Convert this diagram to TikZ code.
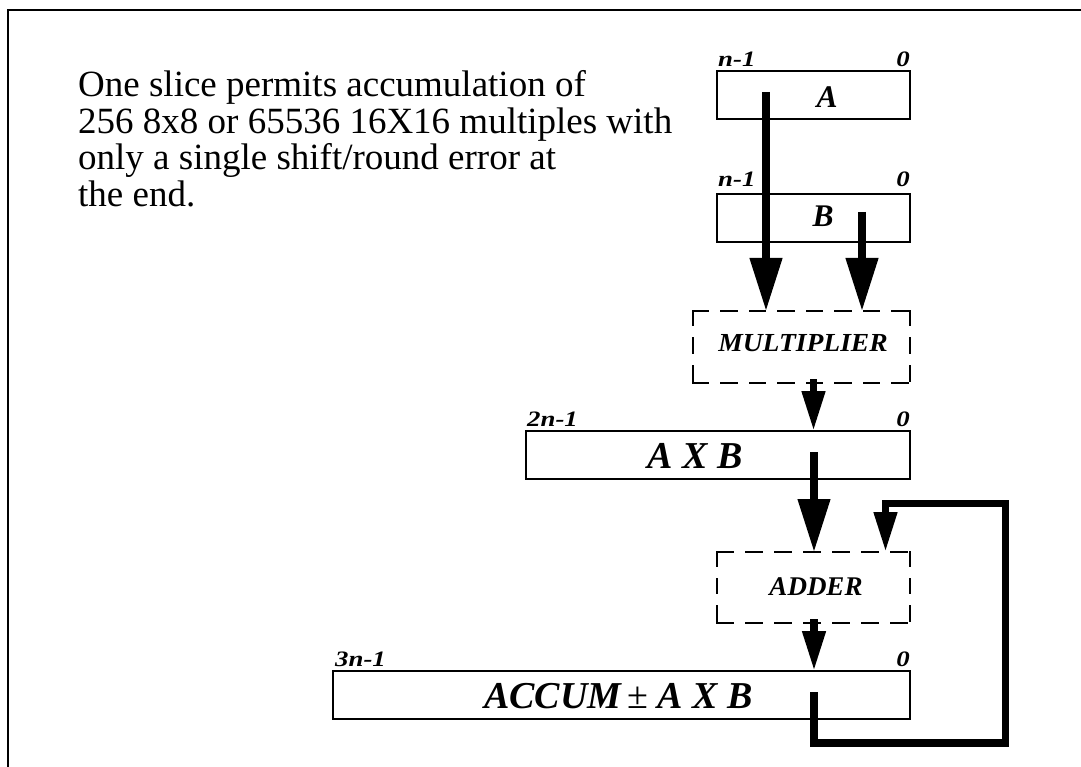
\documentclass[tikz,border=0pt]{standalone}
\usepackage{fontspec}
\setmainfont{Liberation Serif}
\usetikzlibrary{arrows.meta}
\tikzset{
  reg/.style={draw, line width=1.3pt, minimum height=48pt, inner sep=0pt, outer sep=0pt},
  unit/.style={inner sep=0pt, outer sep=0pt},
  dside/.style={line width=2.7pt, line cap=rect, dash pattern=on #1 off 13.7pt},
  bigarrow/.style={line width=7.5pt, -{Triangle[length=53pt,width=31pt]}},
  smallarrow/.style={line width=7.5pt, line join=miter, -{Triangle[length=40pt,width=22pt]}},
  body/.style={anchor=base west, inner sep=0pt, font=\fontsize{37}{37}\selectfont},
  bit/.style={inner sep=0pt, font=\fontsize{22}{22}\selectfont\bfseries\itshape},
  regtext/.style={anchor=base, inner sep=0pt, font=\fontsize{#1}{#1}\selectfont\bfseries\itshape},
}
\newcommand\widen[1]{\scalebox{1.22}[1]{#1}}
\begin{document}
\begin{tikzpicture}[x=1pt,y=-1pt]
\useasboundingbox (0,0) rectangle (1081,767);
\clip (0,0) rectangle (1081,767);
% frame
\draw[line width=2.7pt] (8,800) -- (8,10) -- (1100,10);

% text
\node[body] (t1) at (78,97) {One slice permits accumulation of};
\node[body] (t2) at (78,133.5) {256 8x8 or 65536 16X16 multiples with};
\node[body] (t3) at (78,170) {only a single shift/round error at};
\node[body] (t4) at (78,206.5) {the end.};

% registers
\node[reg, minimum width=193pt] (boxA) at (813.5,95) {};
\node[reg, minimum width=193pt] (boxB) at (813.5,218) {};
\node[reg, minimum width=384pt] (boxAB) at (718,455) {};
\node[reg, minimum width=577pt] (boxACC) at (621.5,695) {};

\node[regtext=31.5] (lA) at (827,108) {A};
\node[regtext=31.5] (lB) at (823,227) {B};
\node[regtext=38] (lAB) at (695.5,468) {A X B};
\node[regtext=38] (lACC) at (618.5,708) {ACCUM{\mdseries\upshape\,±} A X B};

% bit labels
\node[bit, anchor=base west] (a1) at (718,67) {\widen{n-1}};
\node[bit, anchor=base east] (a0) at (910,67) {\widen{0}};
\node[bit, anchor=base west] (b1) at (718,187) {\widen{n-1}};
\node[bit, anchor=base east] (b0) at (910,187) {\widen{0}};
\node[bit, anchor=base west] (c1) at (527,426) {\widen{2n-1}};
\node[bit, anchor=base east] (c0) at (910,426) {\widen{0}};
\node[bit, anchor=base west] (d1) at (335,666) {\widen{3n-1}};
\node[bit, anchor=base east] (d0) at (910,666) {\widen{0}};

% functional units (dashed)
\node[unit, minimum width=217pt, minimum height=72pt] (mult) at (801.5,347) {};
\node[regtext=26, anchor=center] (lmult) at (803,343.5) {\scalebox{1.06}[1]{MULTIPLIER}};
\draw[dside=14.8pt] (mult.north west) -- (mult.north east);
\draw[dside=14.8pt] (mult.south west) -- (mult.south east);
\draw[dside=14pt] (mult.north west) -- (mult.south west);
\draw[dside=14pt] (mult.north east) -- (mult.south east);

\node[unit, minimum width=193pt, minimum height=71pt] (adder) at (813.5,587.5) {};
\node[regtext=27] (ladder) at (816,595) {ADDER};
\draw[dside=15.4pt] (adder.north west) -- (adder.north east);
\draw[dside=15.4pt] (adder.south west) -- (adder.south east);
\draw[dside=13.6pt] (adder.north west) -- (adder.south west);
\draw[dside=13.6pt] (adder.north east) -- (adder.south east);

% arrows
\coordinate (s1) at (766,92);
\coordinate (s2) at (862,212);
\coordinate (s3) at (813.5,379);
\coordinate (s4) at (814,452);
\coordinate (s5) at (814,619);
\coordinate (s6) at (814,692);
\coordinate (fbR) at (1005.5,743);
\coordinate (fbT) at (885.5,503.5);

\draw[bigarrow] (s1) -- (s1 |- mult.north);
\draw[bigarrow] (s2) -- (s2 |- mult.north);
\draw[smallarrow] (s3) -- (s3 |- boxAB.north);
\draw[bigarrow] (s4) -- (s4 |- adder.north);
\draw[smallarrow] (s5) -- (s5 |- boxACC.north);
\draw[smallarrow] (s6) |- (fbR) -- (fbR |- fbT) -- (fbT) -- (fbT |- adder.north);
\end{tikzpicture}
\end{document}
